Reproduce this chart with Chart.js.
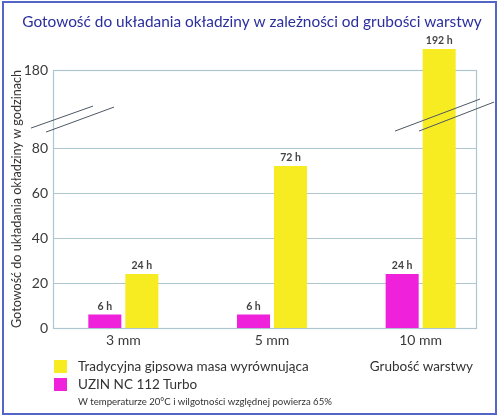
<!DOCTYPE html>
<html lang="pl">
<head>
<meta charset="utf-8">
<title>Gotowość do układania okładziny</title>
<script src="https://cdn.jsdelivr.net/npm/chart.js@4.4.1/dist/chart.umd.min.js"></script>
<style>
  html, body { margin: 0; padding: 0; background: #fff; }
  #wrap { position: relative; width: 500px; height: 417px; overflow: hidden; font-family: Lato, sans-serif; color: #333; }
  #frame { position: absolute; left: 2px; top: 1px; width: 495px; height: 414px; box-sizing: border-box; border: 2px solid #5465c8; pointer-events: none; }
  #chart { position: absolute; left: 0; top: 0; }
  #legend { position: absolute; left: 54px; top: 357px; font-size: 13.5px; line-height: 18px; }
  #legend .row { display: flex; align-items: center; white-space: nowrap; }
  #legend .sw { width: 13px; height: 13px; margin-right: 11px; }
  #xname { position: absolute; right: 27px; top: 357px; font-size: 13.5px; line-height: 18px; }
  #note { position: absolute; left: 78px; top: 395px; font-size: 9.6px; line-height: 14px; }
</style>
</head>
<body>
<div id="wrap">
  <canvas id="chart" width="500" height="417"></canvas>
  <div id="legend"></div>
  <div id="xname">Grubość warstwy</div>
  <div id="note">W temperaturze 20°C i wilgotności względnej powierza 65%</div>
  <div id="frame"></div>
</div>
<script>
// data
const categories = ['3 mm', '5 mm', '10 mm'];
const uzinHours = [6, 6, 24];
const gipsHours = [24, 72, 192];
const yTicks = [0, 20, 40, 60, 80, 180];

const yellow = '#f7eb22';
const magenta = '#ef21db';
const gridColor = '#aec6d0';

// linear scale with a broken section between breakLow and breakHigh
class BrokenScale extends Chart.LinearScale {
  _decimal(value) {
    const o = this.options;
    const w = o.segmentWeights;
    const total = w[0] + w[1] + w[2];
    if (value <= o.breakLow) return (value - this.min) / (o.breakLow - this.min) * w[0] / total;
    if (value <= o.breakHigh) return (w[0] + (value - o.breakLow) / (o.breakHigh - o.breakLow) * w[1]) / total;
    return (w[0] + w[1] + (value - o.breakHigh) / (this.max - o.breakHigh) * w[2]) / total;
  }
  getPixelForValue(value) {
    if (value === null || value === undefined) return NaN;
    return this.getPixelForDecimal(this._decimal(value));
  }
  getValueForPixel(pixel) {
    const o = this.options;
    const w = o.segmentWeights;
    const total = w[0] + w[1] + w[2];
    const d = this.getDecimalForPixel(pixel) * total;
    if (d <= w[0]) return this.min + d / w[0] * (o.breakLow - this.min);
    if (d <= w[0] + w[1]) return o.breakLow + (d - w[0]) / w[1] * (o.breakHigh - o.breakLow);
    return o.breakHigh + (d - w[0] - w[1]) / w[2] * (this.max - o.breakHigh);
  }
}
BrokenScale.id = 'broken';
BrokenScale.defaults = Object.assign({}, Chart.LinearScale.defaults);
Chart.register(BrokenScale);

// frame box and horizontal grid lines, under the bars
const FRAME_LEFT = 53, FRAME_RIGHT = 476;
const framePlugin = {
  id: 'frame',
  beforeDatasetsDraw(chart) {
    const { ctx, scales: { y } } = chart;
    const top = y.getPixelForValue(180);
    const bottom = y.getPixelForValue(0);
    ctx.save();
    ctx.strokeStyle = gridColor;
    ctx.lineWidth = 1.2;
    yTicks.forEach(v => {
      if (v === 0 || v === 180) return;
      const py = Math.round(y.getPixelForValue(v)) + 0.5;
      ctx.beginPath();
      ctx.moveTo(FRAME_LEFT, py);
      ctx.lineTo(FRAME_RIGHT, py);
      ctx.stroke();
    });
    ctx.strokeRect(FRAME_LEFT + 0.5, Math.round(top) + 0.5, FRAME_RIGHT - FRAME_LEFT, Math.round(bottom - top));
    ctx.restore();
  }
};

// value labels and the axis break marks, over the bars
const breakMarks = [
  [FRAME_LEFT - 22, 58, FRAME_LEFT + 40, 36],
  [FRAME_LEFT - 7, 62, FRAME_LEFT + 61, 37],
  [FRAME_RIGHT - 81, 61, FRAME_RIGHT + 4, 29],
  [FRAME_RIGHT - 57, 61, FRAME_RIGHT + 18, 32]
];
const labelPlugin = {
  id: 'labels',
  afterDatasetsDraw(chart) {
    const { ctx, scales: { y } } = chart;
    ctx.save();
    ctx.font = 'bold 10.5px Lato';
    ctx.fillStyle = '#444';
    ctx.textAlign = 'center';
    ctx.textBaseline = 'bottom';
    chart.data.datasets.forEach((ds, i) => {
      chart.getDatasetMeta(i).data.forEach((bar, j) => {
        ctx.fillText(ds.data[j] + ' h', bar.x, bar.y - 3);
      });
    });
    const yb = y.getPixelForValue(180);
    ctx.strokeStyle = '#4d5863';
    ctx.lineWidth = 1;
    breakMarks.forEach(m => {
      ctx.beginPath();
      ctx.moveTo(m[0], yb + m[1]);
      ctx.lineTo(m[2], yb + m[3]);
      ctx.stroke();
    });
    ctx.restore();
  }
};

const chart = new Chart(document.getElementById('chart'), {
  type: 'bar',
  data: {
    labels: categories,
    datasets: [
      { label: 'UZIN NC 112 Turbo', data: uzinHours, backgroundColor: magenta },
      { label: 'Tradycyjna gipsowa masa wyrównująca', data: gipsHours, backgroundColor: yellow }
    ]
  },
  options: {
    responsive: false,
    animation: false,
    categoryPercentage: 0.498,
    barPercentage: 0.892,
    layout: { padding: { left: 9, right: 5, top: 4, bottom: 65 } },
    plugins: {
      legend: { display: false },
      tooltip: { enabled: false },
      title: {
        display: true,
        text: 'Gotowość do układania okładziny w zależności od grubości warstwy',
        color: '#2b2f9e',
        font: { family: 'Lato', size: 15.4, weight: 'normal' },
        padding: { top: 8.8, bottom: 10.8 }
      }
    },
    scales: {
      x: {
        grid: { display: false, drawTicks: false },
        border: { display: false },
        ticks: { color: '#3a3a3a', padding: 4, font: { family: 'Lato', size: 14 } },
        afterFit: s => { s.height = 24; }
      },
      y: {
        type: 'broken',
        min: 0,
        max: 196,
        breakLow: 80,
        breakHigh: 180,
        segmentWeights: [180, 78, 28],
        grid: { display: false, drawTicks: false },
        border: { display: false },
        ticks: { color: '#3a3a3a', padding: 1, font: { family: 'Lato', size: 14 } },
        afterBuildTicks: s => { s.ticks = yTicks.map(v => ({ value: v })); },
        afterFit: s => { s.width = 40; },
        title: {
          display: true,
          text: 'Gotowość do układania okładziny w godzinach',
          align: 'start',
          color: '#333',
          padding: { top: 0, bottom: 0 },
          font: { family: 'Lato', size: 12.6 }
        }
      }
    }
  },
  plugins: [framePlugin, labelPlugin]
});

// legend rows, yellow series first as in the original
const legend = document.getElementById('legend');
chart.data.datasets.slice().reverse().forEach(ds => {
  const row = document.createElement('div');
  row.className = 'row';
  row.innerHTML = `<span class="sw" style="background:${ds.backgroundColor}"></span><span>${ds.label}</span>`;
  legend.appendChild(row);
});
</script>
</body>
</html>
